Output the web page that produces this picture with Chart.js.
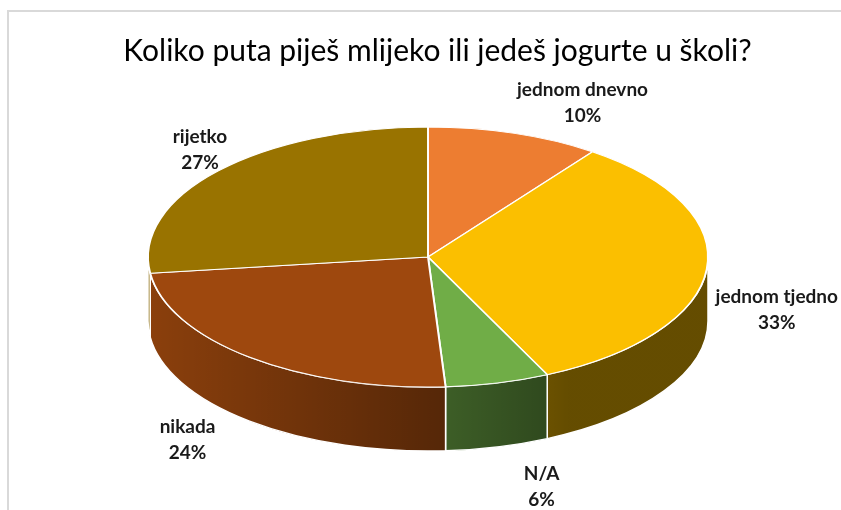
<!DOCTYPE html>
<html>
<head>
<meta charset="utf-8">
<script src="https://cdn.jsdelivr.net/npm/chart.js@4"></script>
<style>
  html, body { margin: 0; padding: 0; background: #fff; }
  #wrap { width: 841px; height: 510px; }
</style>
</head>
<body>
<div id="wrap"><canvas id="pieChart" width="841" height="510"></canvas></div>
<script>
// data
const TITLE = 'Koliko puta piješ mlijeko ili jedeš jogurte u školi?';
const CATEGORIES = ['jednom dnevno', 'jednom tjedno', 'N/A', 'nikada', 'rijetko'];
const VALUES = [10, 33, 6, 24, 27];
const COLORS = ['#ED7D31', '#FBBF00', '#70AD47', '#9E480E', '#997300'];

// layout of the tilted pie (screen px)
const PIE = { cx: 428, cy: 257, rx: 280, ry: 130, depth: 64 };
// label nudge from the rim point at each slice's middle angle
const LABEL_NUDGE = [[68, -30], [70, 41], [44, 104], [-62, 83], [-18, -21]];
const TEXT = '#1a1a1a';

Chart.defaults.font.family = 'Lato';

// side wall + squash the flat pie into an ellipse
const tiltPlugin = {
  id: 'tilt',
  beforeDraw(chart) {
    const ctx = chart.ctx;
    ctx.save();
    ctx.strokeStyle = '#D9D9D9';
    ctx.lineWidth = 2;
    ctx.beginPath();
    ctx.moveTo(8, 520);
    ctx.lineTo(8, 11);
    ctx.lineTo(850, 11);
    ctx.stroke();
    ctx.restore();
  },
  beforeDatasetsDraw(chart) {
    const ctx = chart.ctx;
    const meta = chart.getDatasetMeta(0);
    const { cx, cy, rx, ry, depth } = PIE;

    const shade = ctx.createLinearGradient(cx - rx, 0, cx + rx, 0);
    shade.addColorStop(0, 'rgba(0,0,0,0.12)');
    shade.addColorStop(0.55, 'rgba(0,0,0,0.47)');
    shade.addColorStop(0.75, 'rgba(0,0,0,0.6)');
    shade.addColorStop(1, 'rgba(0,0,0,0.6)');

    meta.data.forEach((arc, i) => {
      for (let k = -1; k <= 1; k++) {
        const s = Math.max(arc.startAngle + 2 * Math.PI * k, 0);
        const e = Math.min(arc.endAngle + 2 * Math.PI * k, Math.PI);
        if (e <= s) continue;
        ctx.save();
        ctx.beginPath();
        ctx.ellipse(cx, cy, rx, ry, 0, s, e, false);
        ctx.ellipse(cx, cy + depth, rx, ry, 0, e, s, true);
        ctx.closePath();
        ctx.fillStyle = COLORS[i];
        ctx.fill();
        ctx.fillStyle = shade;
        ctx.fill();
        ctx.strokeStyle = '#fff';
        ctx.lineWidth = 1.5;
        ctx.stroke();
        ctx.restore();
      }
    });

    const a = meta.data[0];
    const r = meta.controller.outerRadius;
    ctx.save();
    ctx.translate(cx, cy);
    ctx.scale(rx / r, ry / r);
    ctx.translate(-a.x, -a.y);
  },
  afterDatasetsDraw(chart) {
    chart.ctx.restore();
  },
  afterDraw(chart) {
    const ctx = chart.ctx;
    const meta = chart.getDatasetMeta(0);
    const total = VALUES.reduce((s, v) => s + v, 0);
    const { cx, cy, rx, ry } = PIE;
    ctx.save();
    ctx.fillStyle = TEXT;
    ctx.font = 'bold 19px Lato';
    ctx.textAlign = 'center';
    ctx.textBaseline = 'middle';
    meta.data.forEach((arc, i) => {
      const mid = (arc.startAngle + arc.endAngle) / 2;
      const x = cx + rx * Math.cos(mid) + LABEL_NUDGE[i][0];
      const y = cy + ry * Math.sin(mid) + LABEL_NUDGE[i][1];
      ctx.fillText(CATEGORIES[i], x, y - 13);
      ctx.fillText(Math.round(VALUES[i] / total * 100) + '%', x, y + 13);
    });
    ctx.restore();
  }
};

new Chart(document.getElementById('pieChart'), {
  type: 'pie',
  data: {
    labels: CATEGORIES,
    datasets: [{
      data: VALUES,
      backgroundColor: COLORS,
      borderColor: '#fff',
      borderWidth: 1.5,
      clip: false,
    }],
  },
  options: {
    responsive: false,
    animation: false,
    events: [],
    layout: { padding: { left: 34 } },
    plugins: {
      legend: { display: false },
      tooltip: { enabled: false },
      title: {
        display: true,
        text: TITLE,
        color: '#000',
        font: { size: 30, weight: 'normal', family: 'Lato' },
        padding: { top: 33, bottom: 10 },
      },
    },
  },
  plugins: [tiltPlugin],
});
</script>
</body>
</html>
